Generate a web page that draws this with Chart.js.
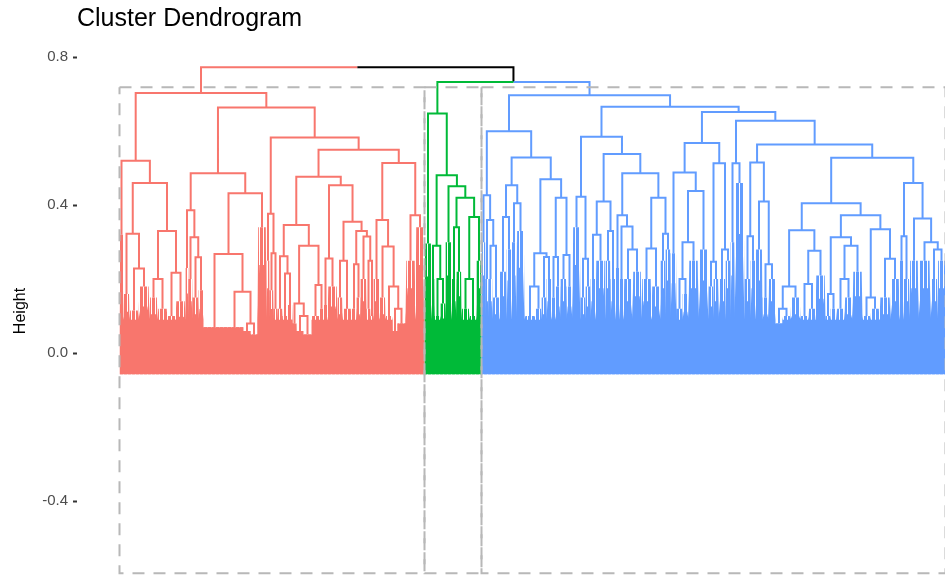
<!DOCTYPE html>
<html>
<head>
<meta charset="utf-8">
<title>Cluster Dendrogram</title>
<script src="https://cdn.jsdelivr.net/npm/chart.js@4.4.1/dist/chart.umd.min.js"></script>
<style>
  html, body { margin: 0; padding: 0; background: #fff; }
  #wrap { width: 945px; height: 577px; }
</style>
</head>
<body>
<div id="wrap"><canvas id="dend" width="945" height="577"></canvas></div>
<script>
// y axis ticks
const yTicks = [-0.4, 0, 0.4, 0.8];

// merge heights of the top of the tree
const rootHeight = 0.773;
const greenBlueHeight = 0.733;

// trees: internal node = [height, left, right], leaf group = [leafCount, groupHeight]
const redTree = [0.703,
  [0.52, [4, 0.32],
    [0.46,
      [0.323, [6, 0.16], [0.229, [9, 0.115], [11, 0.18]]],
      [0.33, [0.2, [8, 0.15], [10, 0.12]], [0.217, [8, 0.1], [10, 0.14]]]]],
  [0.664,
    [0.486,
      [0.386, [3, 0.23], [0.313, [4, 0.2], [0.259, [6, 0.15], [5, 0.17]]]],
      [0.432,
        [0.268, [22, 0.07], [0.166, [18, 0.07], [0.08, [7, 0.06], [7, 0.05]]]],
        [9, 0.34]]],
    [0.583,
      [0.377, [3, 0.25], [0.27, [4, 0.17], [4, 0.12]]],
      [0.55,
        [0.477,
          [0.346,
            [0.262, [5, 0.12], [0.215, [5, 0.1], [5, 0.13]]],
            [0.29, [0.134, [4, 0.08], [0.1, [7, 0.06], [8, 0.05]]], [0.184, [8, 0.1], [4, 0.12]]]],
          [0.454,
            [0.256, [4, 0.13], [10, 0.18]],
            [0.355,
              [0.25, [5, 0.15], [9, 0.12]],
              [0.33, [0.24, [5, 0.12], [4, 0.15]], [0.315, [6, 0.2], [0.25, [4, 0.12], [3, 0.1]]]]]]],
        [0.514,
          [0.36, [6, 0.2], [0.288, [6, 0.15], [0.18, [7, 0.1], [0.12, [5, 0.06], [8, 0.08]]]]],
          [0.373, [10, 0.25], [9, 0.34]]]]]]];

const greenTree = [0.648, [7, 0.296],
  [0.481,
    [0.29, [3, 0.2], [0.2, [6, 0.1], [5, 0.134]]],
    [0.451, [6, 0.3],
      [0.42, [0.34, [5, 0.2], [5, 0.22]], [0.368, [0.2, [8, 0.12], [7, 0.1]], [5, 0.25]]]]]];

const blueTree = [0.697,
  [0.6,
    [0.427, [4, 0.3], [0.36, [3, 0.2], [0.29, [4, 0.2], [7, 0.15]]]],
    [0.529,
      [0.454, [0.368, [7, 0.22], [5, 0.28]], [0.405, [5, 0.3], [8, 0.33]]],
      [0.47,
        [0.27, [0.18, [11, 0.1], [6, 0.12]], [0.26, [5, 0.15], [5, 0.2]]],
        [0.42, [0.26, [4, 0.15], [5, 0.18]], [0.265, [6, 0.2], [6, 0.18]]]]]],
  [0.666,
    [0.585,
      [0.423, [8, 0.34], [0.255, [5, 0.15], [5, 0.18]]],
      [0.538,
        [0.41, [0.32, [5, 0.2], [10, 0.25]], [0.33, [5, 0.25], [5, 0.2]]],
        [0.486,
          [0.373, [4, 0.23], [0.342, [4, 0.2], [0.28, [9, 0.2], [9, 0.22]]]],
          [0.42, [0.283, [10, 0.2], [9, 0.18]], [0.323, [5, 0.25], [5, 0.28]]]]]],
    [0.652,
      [0.568,
        [0.488, [6, 0.27], [0.438, [0.3, [0.2, [6, 0.12], [6, 0.16]], [10, 0.25]], [10, 0.28]]],
        [0.513, [0.247, [5, 0.18], [5, 0.2]], [0.28, [7, 0.2], [5, 0.25]]]],
      [0.628,
        [0.513, [4, 0.3], [10, 0.46]],
        [0.564,
          [0.515, [0.316, [6, 0.2], [5, 0.25]], [0.41, [7, 0.28], [0.24, [6, 0.15], [7, 0.2]]]],
          [0.528,
            [0.405,
              [0.332, [0.18, [0.12, [7, 0.08], [8, 0.1]], [10, 0.15]], [0.277, [0.187, [8, 0.1], [7, 0.12]], [10, 0.21]]],
              [0.373,
                [0.313, [0.16, [5, 0.1], [6, 0.12]], [0.29, [0.2, [8, 0.12], [8, 0.15]], [10, 0.22]]],
                [0.335, [0.15, [8, 0.1], [9, 0.12]], [0.255, [11, 0.15], [9, 0.2]]]]],
            [0.46, [0.316, [4, 0.25], [6, 0.2]], [0.364, [9, 0.25], [0.3, [12, 0.25], [0.28, [7, 0.2], [8, 0.25]]]]]]]]]]];

const clusterColors = { red: '#F8766D', green: '#00BA38', blue: '#619CFF', black: '#000000' };

const labelDepth = -0.057;   // leaf labels hang below zero
const rectTop = 0.719;
const rectBottom = -0.595;

// lay the leaves out left to right, nodes sit midway over their children
let cursor = 0;
function place(node, color) {
  if (node.length === 2) {
    const x0 = cursor;
    cursor += node[0];
    return { leaf: true, x0: x0, x1: cursor, x: x0 + node[0] / 2, h: node[1], color: color };
  }
  const a = place(node[1], color);
  const b = place(node[2], color);
  return { x: (a.x + b.x) / 2, h: node[0], color: color, kids: [a, b], x0: a.x0, x1: b.x1 };
}
function join(h, a, b) {
  return { x: (a.x + b.x) / 2, h: h, color: 'black', kids: [a, b], x0: a.x0, x1: b.x1 };
}

const red = place(redTree, 'red');
const green = place(greenTree, 'green');
const blue = place(blueTree, 'blue');
const root = join(rootHeight, red, join(greenBlueHeight, green, blue));

const segs = { red: [], green: [], blue: [], black: [] };
const fuzz = { red: [], green: [], blue: [] };
const solid = { red: [], green: [], blue: [] };

function walk(n) {
  if (n.leaf) {
    // each leaf group: packed core plus a comb of leaves rising to its height
    const w = n.x1 - n.x0;
    const edge = Math.min(n.h, 0.09);
    const q = w * 0.42;
    fuzz[n.color].push({ x: n.x0, y: edge }, { x: n.x - q, y: n.h }, { x: n.x + q, y: n.h }, { x: n.x1, y: edge });
    const core = Math.max(edge, n.h * 0.7);
    solid[n.color].push({ x: n.x0, y: edge }, { x: n.x - w * 0.3, y: core }, { x: n.x + w * 0.3, y: core }, { x: n.x1, y: edge });
    return;
  }
  n.kids.forEach(k => {
    segs[k.color].push({ x: n.x, y: n.h }, { x: k.x, y: n.h }, { x: k.x, y: k.h }, { x: k.x, y: null });
    walk(k);
  });
}
walk(root);

function rectPath(c) {
  return [
    { x: c.x0, y: rectTop }, { x: c.x1, y: rectTop },
    { x: c.x1, y: rectBottom }, { x: c.x0, y: rectBottom },
    { x: c.x0, y: rectTop }
  ];
}

// vertical hairlines for the dense leaves
function stripes(color) {
  const c = document.createElement('canvas');
  c.width = 4;
  c.height = 1;
  const g = c.getContext('2d');
  g.fillStyle = color;
  g.fillRect(0, 0, 3, 1);
  return g.createPattern(c, 'repeat');
}

const datasets = [];
[red, green, blue].forEach(c => {
  datasets.push({ data: rectPath(c), borderColor: '#b8b8b8', borderWidth: 2, borderDash: [12, 9], fill: false, order: 0 });
});
Object.keys(segs).forEach(c => {
  datasets.push({ data: segs[c], borderColor: clusterColors[c], borderWidth: 2, fill: false, order: 1 });
});
Object.keys(solid).forEach(c => {
  datasets.push({ data: solid[c], borderColor: 'rgba(0,0,0,0)', borderWidth: 1, backgroundColor: clusterColors[c], fill: { value: labelDepth }, order: 2 });
  datasets.push({ data: fuzz[c], borderColor: 'rgba(0,0,0,0)', borderWidth: 1, backgroundColor: stripes(clusterColors[c]), fill: { value: labelDepth }, order: 3 });
});

Chart.defaults.font.family = "'Liberation Sans', Arial, sans-serif";

new Chart(document.getElementById('dend'), {
  type: 'line',
  data: { datasets: datasets },
  options: {
    responsive: false,
    devicePixelRatio: 1,
    animation: false,
    spanGaps: false,
    layout: { padding: 0 },
    elements: { point: { radius: 0 }, line: { tension: 0 } },
    plugins: {
      legend: { display: false },
      tooltip: { enabled: false },
      title: {
        display: true,
        text: 'Cluster Dendrogram',
        align: 'start',
        fullSize: false,
        color: '#000',
        font: { size: 25, weight: 'normal' },
        padding: { top: 4, bottom: 11 }
      }
    },
    scales: {
      x: { type: 'linear', min: -42.5, max: 825.5, display: false },
      y: {
        type: 'linear',
        min: -0.6054,
        max: 0.833,
        afterBuildTicks: s => { s.ticks = yTicks.map(v => ({ value: v })); },
        afterFit: s => { s.width = 77; s.paddingTop = 0; s.paddingBottom = 0; },
        border: { display: false },
        grid: { drawOnChartArea: false, drawTicks: true, tickLength: 4, tickWidth: 2, tickColor: '#333' },
        ticks: { color: '#4d4d4d', font: { size: 15 }, padding: 5, callback: v => v.toFixed(1) },
        title: { display: true, text: 'Height', color: '#000', font: { size: 16 }, padding: { top: 11, bottom: 0 } }
      }
    }
  }
});
</script>
</body>
</html>
